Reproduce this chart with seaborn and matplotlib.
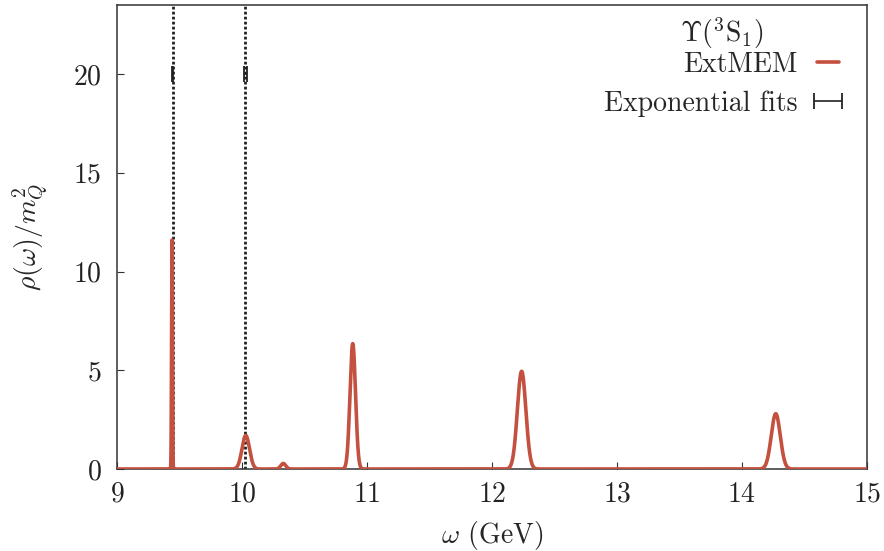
import numpy as np
import pandas as pd
import matplotlib
matplotlib.use("Agg")
import matplotlib.pyplot as plt
import seaborn as sns

# ExtMEM spectral peaks: position (GeV), height (rho/m_Q^2), Gaussian width (GeV)
peak_pos = [9.440, 10.030, 10.330, 10.886, 12.237, 14.270]
peak_height = [11.6, 1.70, 0.28, 6.35, 4.95, 2.80]
peak_width = [0.0035, 0.030, 0.020, 0.022, 0.034, 0.036]

# Exponential-fit ground/excited state masses (GeV) with their uncertainties
fit_mass = [9.445, 10.025]
fit_err = [0.002, 0.012]
fit_level = [20.0, 20.0]

x_ticks = [9, 10, 11, 12, 13, 14, 15]
y_ticks = [0, 5, 10, 15, 20]

FS = 20

sns.set_style("ticks")
plt.rcParams.update({
    "font.family": "serif",
    "font.serif": ["cmr10"],
    "mathtext.fontset": "cm",
    "axes.formatter.use_mathtext": True,
    "font.size": FS,
    "axes.edgecolor": "#333333",
    "axes.linewidth": 1.1,
    "xtick.direction": "in",
    "ytick.direction": "in",
    "xtick.major.size": 5,
    "ytick.major.size": 5,
    "xtick.color": "#333333",
    "ytick.color": "#333333",
    "xtick.labelcolor": "#222222",
    "ytick.labelcolor": "#222222",
})

omega = np.linspace(9.0, 15.0, 12001)
rho = np.zeros_like(omega)
for p, h, w in zip(peak_pos, peak_height, peak_width):
    rho += h * np.exp(-0.5 * ((omega - p) / w) ** 2)
spec = pd.DataFrame({"omega": omega, "rho": rho})

fig = plt.figure(figsize=(8.84, 5.51), dpi=100)
ax = fig.add_axes([117 / 884, 1 - 469 / 551, (867 - 117) / 884, (469 - 5) / 551])

for m in fit_mass:
    ax.axvline(m, color="#222222", linestyle=(0, (1, 0.8)), linewidth=2.0, zorder=1)

sns.lineplot(data=spec, x="omega", y="rho", ax=ax, color="#c4503f",
             linewidth=2.6, label="ExtMEM", zorder=3)

ax.errorbar(fit_mass, fit_level, xerr=fit_err, fmt="none", ecolor="#222222",
            elinewidth=1.2, capsize=6, capthick=1.3, label="Exponential fits",
            zorder=4)

ax.set_xlim(9, 15)
ax.set_ylim(0, 23.5)
ax.set_xticks(x_ticks)
ax.set_yticks(y_ticks)
ax.tick_params(axis="x", pad=9, top=False)
ax.tick_params(axis="y", pad=11, right=False)
for s in ax.spines.values():
    s.set_visible(True)

ax.set_xlabel(r"$\omega$ (GeV)", labelpad=8)
ax.set_ylabel(r"$\rho(\omega)/m_Q^2$", labelpad=16)

leg = ax.legend(title=r"$\Upsilon(^3\mathrm{S}_1)$", loc="upper right",
                bbox_to_anchor=(0.983, 1.01), frameon=False, markerfirst=False,
                handlelength=0.8, handletextpad=0.7, labelspacing=0.45,
                borderaxespad=0.15, fontsize=FS, title_fontsize=FS)
leg._legend_box.sep = 0

fig.savefig("out.png", dpi=100)
